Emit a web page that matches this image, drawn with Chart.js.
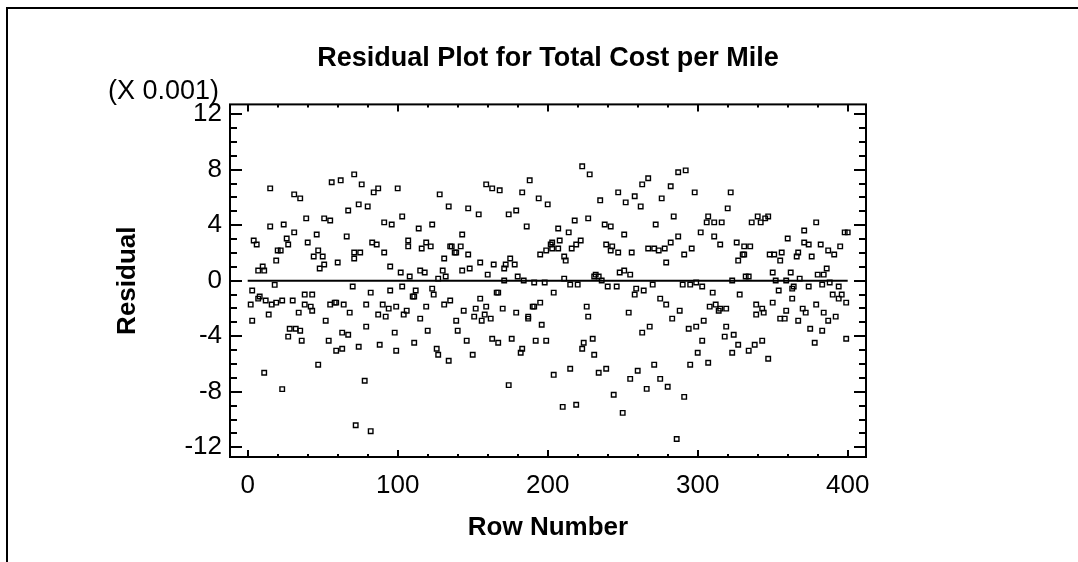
<!DOCTYPE html>
<html>
<head>
<meta charset="utf-8">
<script src="https://cdn.jsdelivr.net/npm/chart.js@4/dist/chart.umd.min.js"></script>
<style>
html,body{margin:0;padding:0;background:#fff;}
canvas{display:block;}
</style>
</head>
<body>
<canvas id="c" width="1078" height="562"></canvas>
<script>
// ---- data (residuals in units of 0.001) ----
const rowNumbers = [
  // rows 0-65
  15,31,35,56,62,39,51,55,15,24,31,46,4,6,26,27,40,20,22,47,44,50,19,60,51,48,10,7,11,
  18,3,8,7,12,23,19,16,30,38,43,2,38,42,43,55,58,59,64,14,34,3,52,28,32,35,27,36,63,54,59,63,47,11,23,
  // rows 65-135
  71,76,87,84,100,128,134,74,80,67,103,91,96,114,123,66,83,86,107,107,119,116,122,135,71,75,91,71,131,95,102,108,115,118,130,127,132,
  70,82,95,103,112,110,111,123,124,135,131,79,90,94,99,106,104,119,68,87,92,115,79,67,98,120,74,88,99,111,126,127,134,78,72,82,
  // rows 135-205
  159,163,168,188,183,194,200,147,154,174,179,186,143,136,142,138,139,147,155,164,175,172,178,171,195,199,202,203,203,143,148,160,180,171,184,191,198,
  166,167,155,144,152,159,170,190,191,195,204,179,151,158,156,162,187,187,139,196,140,146,163,167,176,192,199,183,182,150,204,174,
  // rows 205-275
  223,228,235,247,252,258,263,267,262,218,227,207,214,238,242,251,272,208,222,219,216,207,239,243,242,247,256,267,271,274,211,212,248,251,255,211,231,232,234,236,
  215,220,240,246,259,258,264,270,226,227,254,263,268,224,223,230,231,215,234,239,260,255,271,266,244,210,219,250,
  // rows 275-345
  287,292,282,276,298,322,320,284,307,306,311,316,340,336,342,345,302,287,282,278,311,315,326,331,335,296,291,330,331,327,279,323,332,334,
  290,295,299,303,310,328,275,279,288,283,308,312,314,315,319,339,343,339,344,304,294,299,319,318,324,303,300,327,323,334,338,343,295,307,275,280,291,286,
  // rows 345-400
  347,379,371,360,371,374,382,398,400,395,387,391,348,351,356,355,367,366,376,350,362,386,380,384,352,359,368,
  383,388,354,363,364,374,394,390,394,396,363,350,399,379,359,355,358,370,372,367,384,392,387,375,383,378,399,347
];
const residuals = [
  6.65,6.22,5.93,7.09,7.23,4.49,4.49,4.34,3.91,4.05,3.48,3.33,2.90,2.61,3.04,2.61,2.75,2.18,2.18,2.18,1.74,1.74,1.45,1.31,1.17,0.88,1.02,0.73,0.73,
  -0.30,-0.71,-1.14,-1.29,-1.43,-1.43,-1.58,-1.72,-1.43,-1.00,-1.00,-1.72,-1.72,-1.87,-2.16,-1.72,-1.58,-1.58,-1.72,-2.44,-2.30,-2.88,-2.88,-3.46,-3.46,-3.60,-4.03,-4.32,-3.74,-4.32,-5.04,-4.90,-6.05,-6.63,-7.81,
  7.66,6.94,6.65,6.36,6.65,6.22,5.35,5.50,5.35,5.06,4.63,4.20,4.05,3.76,4.05,3.19,2.75,2.61,2.90,2.47,2.75,2.32,2.47,2.47,2.03,2.03,2.03,1.60,1.60,1.02,0.59,0.30,0.73,0.59,0.73,0.15,0.30,
  -0.42,-0.86,-0.71,-0.42,-0.71,-1.14,-1.14,-0.57,-1.00,-1.43,-1.72,-1.72,-1.72,-2.01,-1.87,-2.16,-2.44,-1.87,-2.30,-2.44,-2.59,-2.73,-3.31,-3.89,-3.74,-3.60,-4.76,-4.61,-5.04,-4.47,-4.90,-5.33,-5.77,-7.21,-10.41,-10.84,
  6.94,6.65,6.51,7.23,6.36,5.93,5.50,5.21,4.78,4.78,5.06,3.91,3.33,2.47,2.47,2.03,2.03,1.89,1.31,1.17,1.60,1.17,1.17,0.88,1.89,2.18,2.61,2.75,2.32,0.73,0.88,0.44,0.30,0.01,0.01,-0.13,-0.13,
  -0.86,-0.86,-1.29,-2.16,-2.01,-1.87,-2.01,-1.87,-1.87,-1.58,-0.86,-2.30,-2.59,-2.44,-2.88,-2.73,-2.59,-2.73,-2.88,-3.17,-3.60,-4.32,-4.18,-4.47,-4.18,-4.32,-4.32,-4.90,-5.19,-5.33,-6.78,-7.52,
  8.24,7.66,5.79,6.36,5.64,6.08,6.94,7.38,5.35,4.34,4.49,3.76,3.48,4.05,3.91,3.33,4.05,2.90,2.90,2.61,2.32,2.32,2.61,2.47,2.18,2.03,2.03,2.32,2.32,2.18,1.74,1.45,0.59,0.73,0.44,0.15,0.30,0.44,0.30,0.01,
  -0.28,-0.28,-0.42,-0.42,-0.57,-1.00,-0.71,-0.28,-1.87,-2.59,-2.30,-3.74,-3.31,-4.47,-4.90,-4.18,-5.33,-6.34,-6.63,-6.34,-6.49,-7.07,-6.05,-7.79,-8.22,-9.09,-8.94,-9.52,
  7.81,7.95,6.80,5.93,6.36,6.36,5.21,4.63,4.63,4.20,4.20,4.20,4.63,4.20,4.20,4.49,3.48,3.19,2.75,2.32,3.19,2.61,2.75,2.47,2.47,2.32,1.89,1.89,1.89,1.45,1.31,0.01,0.30,0.30,
  -0.28,-0.28,-0.13,-0.42,-0.86,-1.00,-1.29,-1.72,-2.16,-2.73,-1.87,-1.72,-2.16,-2.01,-2.01,-1.72,-2.01,-2.44,-2.30,-2.88,-3.46,-3.31,-3.31,-4.03,-3.89,-4.32,-5.19,-4.61,-5.19,-5.04,-4.61,-4.32,-6.05,-5.91,-7.07,-7.64,-8.37,-11.40,
  4.63,4.20,3.62,3.04,2.75,2.61,2.61,3.48,3.48,2.47,2.18,1.89,1.89,1.89,2.03,1.45,2.03,1.74,1.74,0.59,0.59,0.88,0.44,0.44,0.01,0.01,0.15,
  -0.28,-0.13,-0.71,-0.57,-0.42,-0.42,-0.42,-1.00,-1.29,-1.00,-1.29,-1.58,-1.58,-1.72,-2.16,-2.73,-2.73,-2.01,-2.30,-2.88,-2.30,-2.59,-2.88,-3.46,-3.60,-4.47,-4.18,-5.62
];
const zeroLineRows = [0, 400];
const xTickValues = [0, 100, 200, 300, 400];
const yTickValues = [-12, -8, -4, 0, 4, 8, 12];
const xMinorStep = 20;
const yMinorStep = 1;
const chartTitle = 'Residual Plot for Total Cost per Mile';
const xAxisTitle = 'Row Number';
const yAxisTitle = 'Residual';
const yScaleNote = '(X 0.001)';

// ---- build ----
const FONT = '"Liberation Sans", Arial, Helvetica, sans-serif';
Chart.defaults.font.family = FONT;
Chart.defaults.color = '#000';

const n = Math.min(rowNumbers.length, residuals.length);
const points = [];
for (let i = 0; i < n; i++) points.push({x: rowNumbers[i], y: residuals[i]});
const zeroLine = zeroLineRows.map(r => ({x: r, y: 0}));

const framePlugin = {
  id: 'framePlugin',
  beforeDraw(chart) {
    const ctx = chart.ctx;
    ctx.save();
    ctx.fillStyle = '#fff';
    ctx.fillRect(0, 0, chart.width, chart.height);
    ctx.restore();
  },
  afterDraw(chart) {
    const {ctx, chartArea: a, scales: {x, y}} = chart;
    ctx.save();
    ctx.strokeStyle = '#000';
    ctx.lineWidth = 2;
    ctx.strokeRect(a.left, a.top, a.right - a.left, a.bottom - a.top);
    // inward tick marks on all four sides
    ctx.beginPath();
    for (let v = yTickValues[0]; v <= yTickValues[yTickValues.length - 1] + 1e-9; v += yMinorStep) {
      const py = Math.round(y.getPixelForValue(v));
      const major = yTickValues.includes(v);
      const len = major ? 12 : 7;
      ctx.moveTo(a.left, py); ctx.lineTo(a.left + len, py);
      ctx.moveTo(a.right, py); ctx.lineTo(a.right - len, py);
    }
    for (let v = xTickValues[0]; v <= xTickValues[xTickValues.length - 1] + 1e-9; v += xMinorStep) {
      const px = Math.round(x.getPixelForValue(v));
      const major = xTickValues.includes(v);
      const len = major ? 7 : 3;
      ctx.moveTo(px, a.bottom); ctx.lineTo(px, a.bottom - len);
      ctx.moveTo(px, a.top); ctx.lineTo(px, a.top + len);
    }
    ctx.stroke();
    // outer page frame
    ctx.beginPath();
    ctx.moveTo(7, chart.height);
    ctx.lineTo(7, 8);
    ctx.lineTo(chart.width, 8);
    ctx.stroke();
    // scale multiplier note
    ctx.fillStyle = '#000';
    ctx.font = '27px ' + FONT;
    ctx.textAlign = 'right';
    ctx.textBaseline = 'middle';
    ctx.fillText(yScaleNote, a.left - 11, 92);
    ctx.restore();
  }
};

new Chart(document.getElementById('c'), {
  type: 'scatter',
  data: {
    datasets: [
      {
        label: 'Residual',
        data: points,
        pointStyle: 'rect',
        pointRadius: 3.2,
        pointBorderWidth: 1.4,
        pointBorderColor: '#000',
        pointBackgroundColor: 'rgba(0,0,0,0)',
        borderColor: '#000',
        backgroundColor: 'rgba(0,0,0,0)'
      },
      {
        type: 'line',
        label: 'zero',
        data: zeroLine,
        showLine: true,
        borderColor: '#000',
        borderWidth: 2,
        pointRadius: 0,
        fill: false
      }
    ]
  },
  options: {
    responsive: false,
    animation: false,
    events: [],
    layout: {padding: {left: 0, right: 212, top: 0, bottom: 0}},
    plugins: {
      legend: {display: false},
      tooltip: {enabled: false},
      title: {
        display: true,
        text: chartTitle,
        fullSize: false,
        color: '#000',
        font: {size: 27, weight: 'bold', family: FONT},
        padding: {top: 42, bottom: 30}
      }
    },
    scales: {
      x: {
        type: 'linear',
        position: 'bottom',
        min: -11.8,
        max: 412.2,
        grid: {display: false, drawTicks: false},
        border: {display: false},
        ticks: {color: '#000', font: {size: 26, family: FONT}, padding: 13, autoSkip: false, maxRotation: 0},
        title: {display: true, text: xAxisTitle, color: '#000', font: {size: 26, weight: 'bold', family: FONT}, padding: {top: 0, bottom: 19}},
        afterBuildTicks(s) { s.ticks = xTickValues.map(v => ({value: v})); },
        afterFit(s) { s.height = 105; }
      },
      y: {
        type: 'linear',
        position: 'left',
        min: -12.7,
        max: 12.7,
        grid: {display: false, drawTicks: false},
        border: {display: false},
        ticks: {color: '#000', font: {size: 26, family: FONT}, padding: 8, autoSkip: false},
        title: {display: true, text: yAxisTitle, color: '#000', font: {size: 26, weight: 'bold', family: FONT}, padding: {top: 112, bottom: 0}},
        afterBuildTicks(s) { s.ticks = yTickValues.map(v => ({value: v})); },
        afterFit(s) { s.width = 230; }
      }
    }
  },
  plugins: [framePlugin]
});
</script>
</body>
</html>
